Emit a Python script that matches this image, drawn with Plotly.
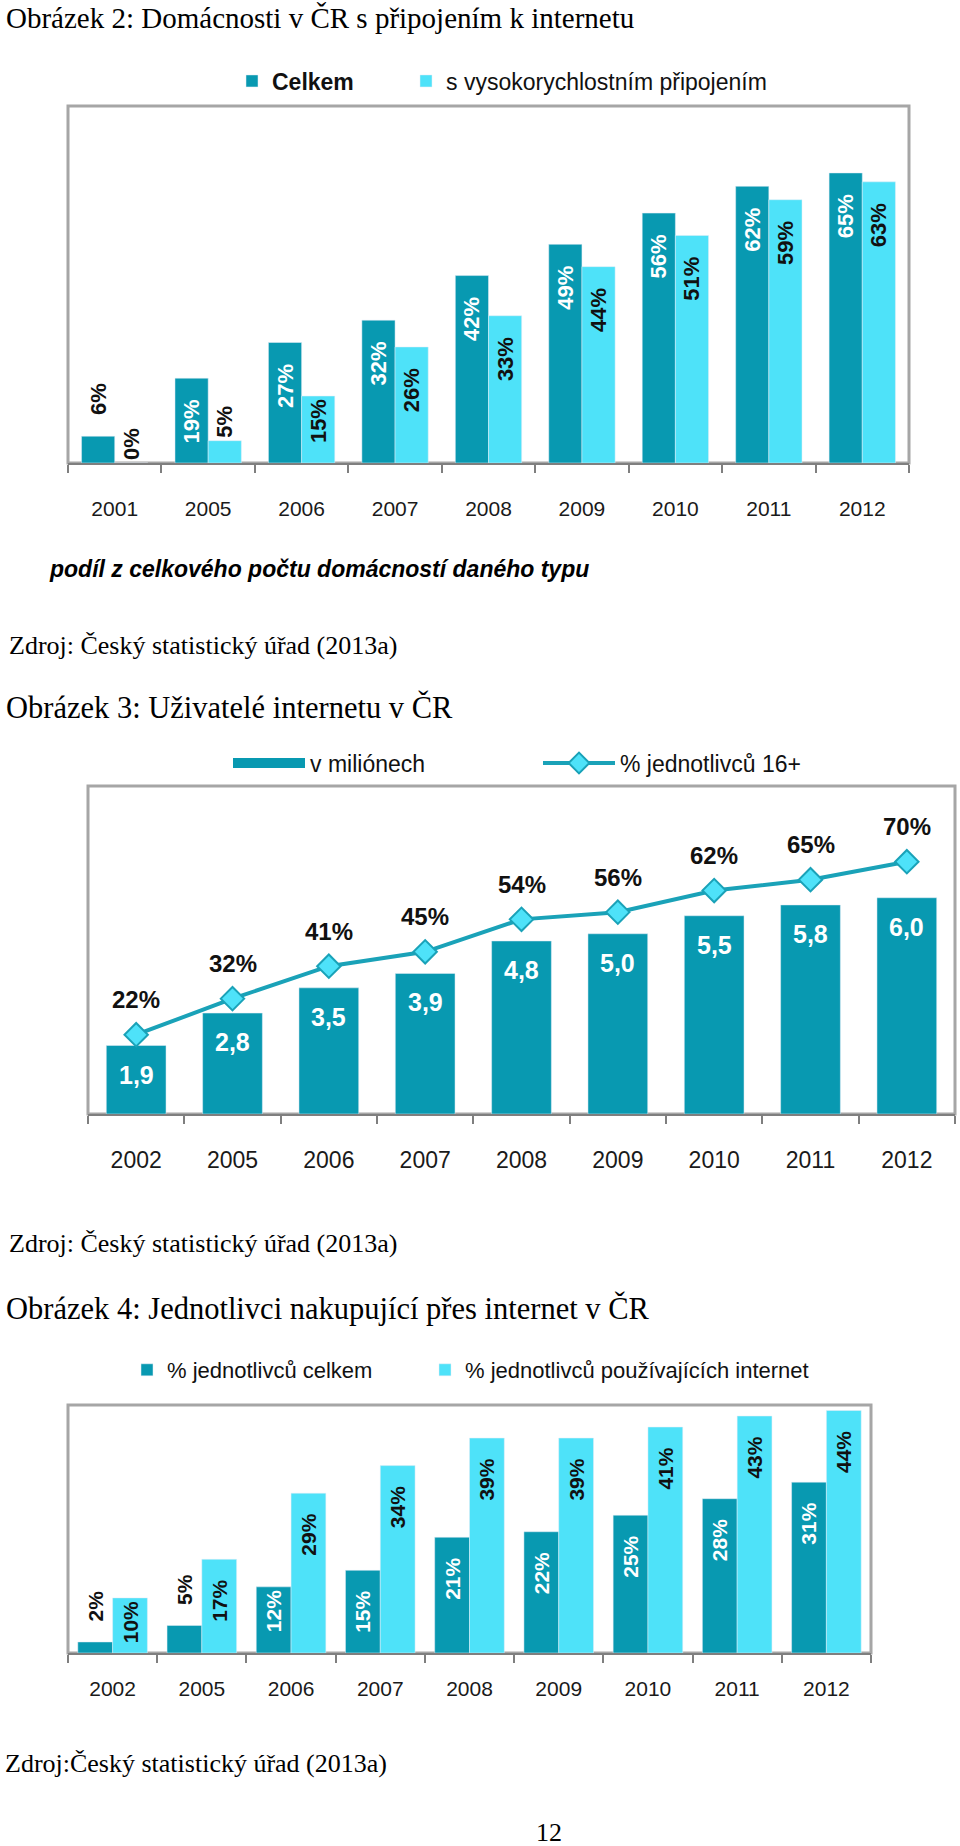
import plotly.graph_objects as go

# ---------------- data ----------------
years1 = ["2001", "2005", "2006", "2007", "2008", "2009", "2010", "2011", "2012"]
celkem1 = [6, 19, 27, 32, 42, 49, 56, 62, 65]
vysoko1 = [0, 5, 15, 26, 33, 44, 51, 59, 63]

years2 = ["2002", "2005", "2006", "2007", "2008", "2009", "2010", "2011", "2012"]
miliony2 = [1.9, 2.8, 3.5, 3.9, 4.8, 5.0, 5.5, 5.8, 6.0]
procenta2 = [22, 32, 41, 45, 54, 56, 62, 65, 70]

years3 = ["2002", "2005", "2006", "2007", "2008", "2009", "2010", "2011", "2012"]
celkem3 = [2, 5, 12, 15, 21, 22, 25, 28, 31]
internet3 = [10, 17, 29, 34, 39, 39, 41, 43, 44]

# ---------------- styles ----------------
DARK = "#0899B1"
LIGHT = "#4EE2F9"
LINEC = "#1AA2B8"
FRAME = "#A6A6A6"
AXIS = "#7F7F7F"
SANS = "Liberation Sans, Arial, sans-serif"
SERIF = "Liberation Serif, Times New Roman, serif"
W, H = 960, 1846
PAD = "\u00a0\u00a0\u00a0"   # keeps labels a little away from the bar top


def px_x(x):
    return x / W


def px_y(y):
    return 1 - y / H


def bar_labels(values, inside_color, size, gap_from, outside_gap=False):
    text = []
    for v in values:
        if v >= 10:
            text.append(f"{v}%" + (PAD if v >= gap_from else ""))
        else:
            text.append((PAD if outside_gap else "") + f"{v}%")
    pos = ["inside" if v >= 10 else "outside" for v in values]
    return dict(text=text, textposition=pos, textangle=-90,
                insidetextanchor="end", constraintext="none", cliponaxis=False,
                insidetextfont=dict(family=SANS, size=size, color=inside_color, weight="bold"),
                outsidetextfont=dict(family=SANS, size=size, color="#111", weight="bold"))


fig = go.Figure()

# ---------- chart 1 ----------
fig.add_trace(go.Bar(x=years1, y=celkem1, name="<b>Celkem</b>", marker_color=DARK,
                     width=0.355, offset=-0.355, xaxis="x", yaxis="y", legend="legend",
                     **bar_labels(celkem1, "white", 22, 18, outside_gap=True)))
fig.add_trace(go.Bar(x=years1, y=vysoko1, name="s vysokorychlostním připojením",
                     marker_color=LIGHT, width=0.355, offset=0, xaxis="x", yaxis="y",
                     legend="legend2", **bar_labels(vysoko1, "#111", 22, 18)))

# ---------- chart 2 ----------
fig.add_trace(go.Bar(x=years2, y=miliony2, marker_color=DARK, width=0.62, showlegend=False,
                     xaxis="x2", yaxis="y2"))
fig.add_trace(go.Scatter(x=[None], y=[None], mode="lines", name="v miliónech",
                         line=dict(color=DARK, width=12), xaxis="x2", yaxis="y2",
                         legend="legend3"))
fig.add_trace(go.Scatter(x=years2, y=procenta2, mode="lines+markers", name="% jednotlivců 16+",
                         line=dict(color=LINEC, width=4),
                         marker=dict(symbol="diamond", size=18, color=LIGHT,
                                     line=dict(color=LINEC, width=2)),
                         xaxis="x2", yaxis="y3", legend="legend4", cliponaxis=False))

# ---------- chart 3 ----------
fig.add_trace(go.Bar(x=years3, y=celkem3, name="% jednotlivců celkem", marker_color=DARK,
                     width=0.39, offset=-0.39, xaxis="x3", yaxis="y4", legend="legend5",
                     **bar_labels(celkem3, "white", 21, 14, outside_gap=True)))
fig.add_trace(go.Bar(x=years3, y=internet3, name="% jednotlivců používajících internet",
                     marker_color=LIGHT, width=0.39, offset=0, xaxis="x3", yaxis="y4",
                     legend="legend6", **bar_labels(internet3, "#111", 21, 14)))

annotations = []
# chart 2 value labels (category index on the x2 axis)
for i, v in enumerate(procenta2):
    annotations.append(dict(x=i, y=v, xref="x2", yref="y3", text=f"{v}%", showarrow=False,
                            yshift=35, font=dict(family=SANS, size=24, color="#111", weight="bold")))
for i, v in enumerate(miliony2):
    annotations.append(dict(x=i, y=v, xref="x2", yref="y2", text=f"{v:.1f}".replace(".", ","),
                            showarrow=False, yshift=-29,
                            font=dict(family=SANS, size=25, color="white", weight="bold")))


def page_text(text, x, y, size, family=SERIF, xanchor="left", **font_extra):
    annotations.append(dict(x=px_x(x), y=px_y(y), xref="paper", yref="paper", text=text,
                            showarrow=False, xanchor=xanchor, yanchor="middle",
                            font=dict(family=family, size=size, color="#000", **font_extra)))


page_text("Obrázek 2: Domácnosti v ČR s připojením k internetu", 4, 18, 29)
page_text("podíl z celkového počtu domácností daného typu", 47, 569, 23, family=SANS,
          style="italic", weight="bold")
page_text("Zdroj: Český statistický úřad (2013a)", 7, 645, 26)
page_text("Obrázek 3: Uživatelé internetu v ČR", 4, 707, 30.5)
page_text("Zdroj: Český statistický úřad (2013a)", 7, 1243, 26)
page_text("Obrázek 4: Jednotlivci nakupující přes internet v ČR", 4, 1308, 30.5)
page_text("Zdroj:Český statistický úřad (2013a)", 3, 1763, 26)
page_text("12", 549, 1832, 26, xanchor="center")

shapes = []
for xr, yr in [("x", "y"), ("x2", "y2"), ("x3", "y4")]:
    shapes.append(dict(type="rect", xref=f"{xr} domain", yref=f"{yr} domain", x0=0, x1=1,
                       y0=0, y1=1, line=dict(color=FRAME, width=3), layer="below"))


def xaxis_cfg(domain, anchor, size, standoff):
    return dict(domain=domain, anchor=anchor, type="category", range=[-0.5, 8.5],
                showline=True, linecolor=AXIS, linewidth=2, ticks="outside",
                tickson="boundaries", ticklen=8, tickwidth=1.5, tickcolor=AXIS,
                tickfont=dict(family=SANS, size=size, color="#1a1a1a"),
                ticklabelstandoff=standoff, showgrid=False, zeroline=False, fixedrange=True)


def yaxis_cfg(domain, anchor, rng):
    return dict(domain=domain, anchor=anchor, range=rng, visible=False, showgrid=False,
                zeroline=False, fixedrange=True)


def legend_cfg(x, y, size, itemwidth=30):
    return dict(orientation="h", x=px_x(x), xanchor="left", y=px_y(y), yanchor="middle",
                itemwidth=itemwidth, font=dict(family=SANS, size=size, color="#111"),
                bgcolor="rgba(0,0,0,0)")


fig.update_layout(
    width=W, height=H, margin=dict(l=0, r=0, t=0, b=0),
    paper_bgcolor="white", plot_bgcolor="rgba(0,0,0,0)",
    barmode="group",
    xaxis=xaxis_cfg([px_x(68), px_x(909)], "y", 21, 26),
    yaxis=yaxis_cfg([px_y(463), px_y(106)], "x", [0, 80]),
    xaxis2=xaxis_cfg([px_x(88), px_x(955)], "y2", 23, 24),
    yaxis2=yaxis_cfg([px_y(1114), px_y(786)], "x2", [0, 9.1]),
    yaxis3=dict(overlaying="y2", anchor="x2", range=[0, 91], visible=False, showgrid=False,
                zeroline=False, fixedrange=True),
    xaxis3=xaxis_cfg([px_x(68), px_x(871)], "y4", 21, 16),
    yaxis4=yaxis_cfg([px_y(1653), px_y(1405)], "x3", [0, 45]),
    legend=legend_cfg(232, 81, 23),
    legend2=legend_cfg(406, 81, 23),
    legend3=legend_cfg(228, 763, 23, itemwidth=72),
    legend4=legend_cfg(538, 763, 23, itemwidth=72),
    legend5=legend_cfg(127, 1370, 22),
    legend6=legend_cfg(425, 1370, 22),
    annotations=annotations, shapes=shapes,
)

fig.write_html("out.html")
